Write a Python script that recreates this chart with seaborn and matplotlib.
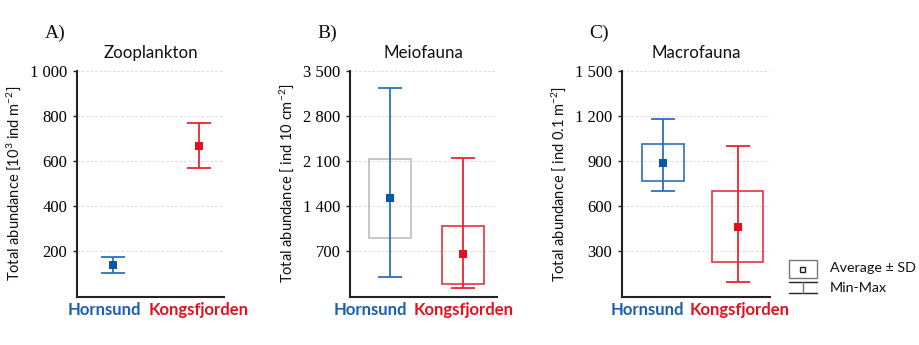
import matplotlib
matplotlib.use("Agg")
import matplotlib.pyplot as plt
import seaborn as sns
import pandas as pd
import numpy as np
from matplotlib.patches import Rectangle
from matplotlib.lines import Line2D
from matplotlib.font_manager import FontProperties

# ---------------- data ----------------
groups = ["Hornsund", "Kongsfjorden"]

zoo_mean = [139, 667]
zoo_min = [105, 569]
zoo_max = [173, 768]

meio_mean = [1521, 654]
meio_min = [307, 136]
meio_max = [3229, 2145]
meio_sd_low = [901, 194]
meio_sd_high = [2134, 1096]

macro_mean = [888, 461]
macro_min = [702, 98]
macro_max = [1176, 1001]
macro_sd_low = [767, 229]
macro_sd_high = [1012, 698]

panel_letters = ["A)", "B)", "C)"]
panel_titles = ["Zooplankton", "Meiofauna", "Macrofauna"]
ylabels = [r"Total abundance [10$^{3}$ ind m$^{-2}$]",
           r"Total abundance [ ind 10 cm$^{-2}$]",
           r"Total abundance [ ind 0.1 m$^{-2}$]"]
yticks_list = [[200, 400, 600, 800, 1000],
               [700, 1400, 2100, 2800, 3500],
               [300, 600, 900, 1200, 1500]]
ytick_labels_list = [["200", "400", "600", "800", "1 000"],
                     ["700", "1 400", "2 100", "2 800", "3 500"],
                     ["300", "600", "900", "1 200", "1 500"]]
ylims = [(0, 1000), (0, 3500), (0, 1500)]
legend_labels = ["Average \u00b1 SD", "Min-Max"]

# ---------------- style ----------------
sns.set_theme(style="white")
plt.rcParams["font.family"] = ["Lato", "DejaVu Sans"]
plt.rcParams["mathtext.fontset"] = "custom"
plt.rcParams["mathtext.rm"] = "Lato"
plt.rcParams["mathtext.it"] = "Lato"

line_colors = ["#2b6fc1", "#e8252f"]
marker_colors = ["#0d58a6", "#e30f1e"]
label_colors = ["#1a5fb0", "#e8101f"]
box_edge = {1: ["#bdbdbd", "#e8323c"], 2: ["#2b6fc1", "#e8323c"]}
box_widths = {1: [0.575, 0.575], 2: [0.56, 0.68]}
xlims = [(-0.425, 1.296), (-0.55, 1.47), (-0.55, 1.43)]
mid_ticks = [0.43, 0.45, 0.44]
label_x = [[0.184, 0.83], [0.136, 0.772], [0.17, 0.795]]

W, H = 920, 345
fig = plt.figure(figsize=(W / 100, H / 100), dpi=100)
ax_left_px = [77, 350, 622]
ax_w_px = [147, 147, 148]
ax_top_px, ax_bot_px = 70.7, 296.5

panels = [
    (zoo_mean, zoo_min, zoo_max, None, None),
    (meio_mean, meio_min, meio_max, meio_sd_low, meio_sd_high),
    (macro_mean, macro_min, macro_max, macro_sd_low, macro_sd_high),
]

serif_fp = FontProperties(family=["Liberation Serif", "DejaVu Serif"], size=12)
letter_fp = FontProperties(family=["Liberation Serif", "DejaVu Serif"], size=14)

axes = []
for i, (mean, mn, mx, sdl, sdh) in enumerate(panels):
    ax = fig.add_axes([ax_left_px[i] / W, 1 - ax_bot_px / H,
                       ax_w_px[i] / W, (ax_bot_px - ax_top_px) / H])
    axes.append(ax)
    df = pd.DataFrame({"group": groups, "mean": mean, "min": mn, "max": mx})
    df["pos"] = np.arange(len(groups))

    # SD boxes
    if sdl is not None:
        for j in range(len(groups)):
            ax.bar(df["pos"][j], sdh[j] - sdl[j], bottom=sdl[j],
                   width=box_widths[i][j], fill=False,
                   edgecolor=box_edge[i][j], linewidth=1.2, zorder=2)

    # Min-max whiskers
    for j in range(len(groups)):
        ax.errorbar(df["pos"][j], (mn[j] + mx[j]) / 2,
                    yerr=[[(mx[j] - mn[j]) / 2], [(mx[j] - mn[j]) / 2]],
                    fmt="none", ecolor=line_colors[j], elinewidth=1.3,
                    capsize=8.6, capthick=1.3, zorder=3)

    # means
    sns.scatterplot(data=df, x="pos", y="mean", hue="group",
                    palette=marker_colors, marker="s", s=32,
                    edgecolor="none", legend=False, ax=ax, zorder=5)

    ax.set_xlim(*xlims[i])
    ax.set_ylim(*ylims[i])
    ax.tick_params(axis="x", direction="in", length=3, width=1, color="#222222")
    ax.tick_params(axis="y", direction="out", length=3, width=1, pad=4,
                   color="#222222", left=True, labelcolor="#000000")
    ax.set_yticks(yticks_list[i])
    ax.set_yticklabels(ytick_labels_list[i])
    ax.set_xticks([mid_ticks[i]])
    ax.set_xticklabels([])
    ax.set_xlabel("")
    ax.set_ylabel(ylabels[i], fontsize=10.5, color="#111111", labelpad=5)
    for g in yticks_list[i]:
        ax.axhline(g, color="#dadada", lw=0.8, ls=(0, (2, 2)), zorder=0)
    sns.despine(ax=ax)
    for s in ["left", "bottom"]:
        ax.spines[s].set_color("#222222")
        ax.spines[s].set_linewidth(1.5)

    ax.set_title(panel_titles[i], fontsize=12.2, color="#111111", pad=9)
    ax.text(-0.22, 1.165, panel_letters[i], transform=ax.transAxes,
            fontproperties=letter_fp, ha="left", va="center",
            color="#111111")

    for j, g in enumerate(groups):
        ax.text(label_x[i][j], -0.06, g, transform=ax.transAxes,
                ha="center", va="center", fontsize=12, fontweight="bold",
                color=label_colors[j])

# ---------------- legend (drawn in figure coords) ----------------
lax = fig.add_axes([0, 0, 1, 1], facecolor="none")
lax.set_xlim(0, W)
lax.set_ylim(H, 0)
lax.axis("off")
lax.add_patch(Rectangle((789, 260), 28, 18, fill=False, edgecolor="#777777", lw=1))
lax.add_patch(Rectangle((800.5, 266.5), 5, 5, fill=False, edgecolor="#222222", lw=1))
lax.add_line(Line2D([789, 817], [282, 282], color="#222222", lw=1))
lax.add_line(Line2D([789, 817], [293, 293], color="#222222", lw=1))
lax.add_line(Line2D([803, 803], [282, 293], color="#777777", lw=1))
lax.text(830, 268.5, legend_labels[0], fontsize=10.3, va="center", ha="left", color="#111111")
lax.text(830, 288.5, legend_labels[1], fontsize=10.3, va="center", ha="left", color="#111111")

# make sure the tick labels use the serif face
fig.canvas.draw()
for ax in axes:
    for tk in ax.yaxis.get_major_ticks():
        tk.label1.set_fontproperties(serif_fp)

fig.savefig("out.png", dpi=100)
